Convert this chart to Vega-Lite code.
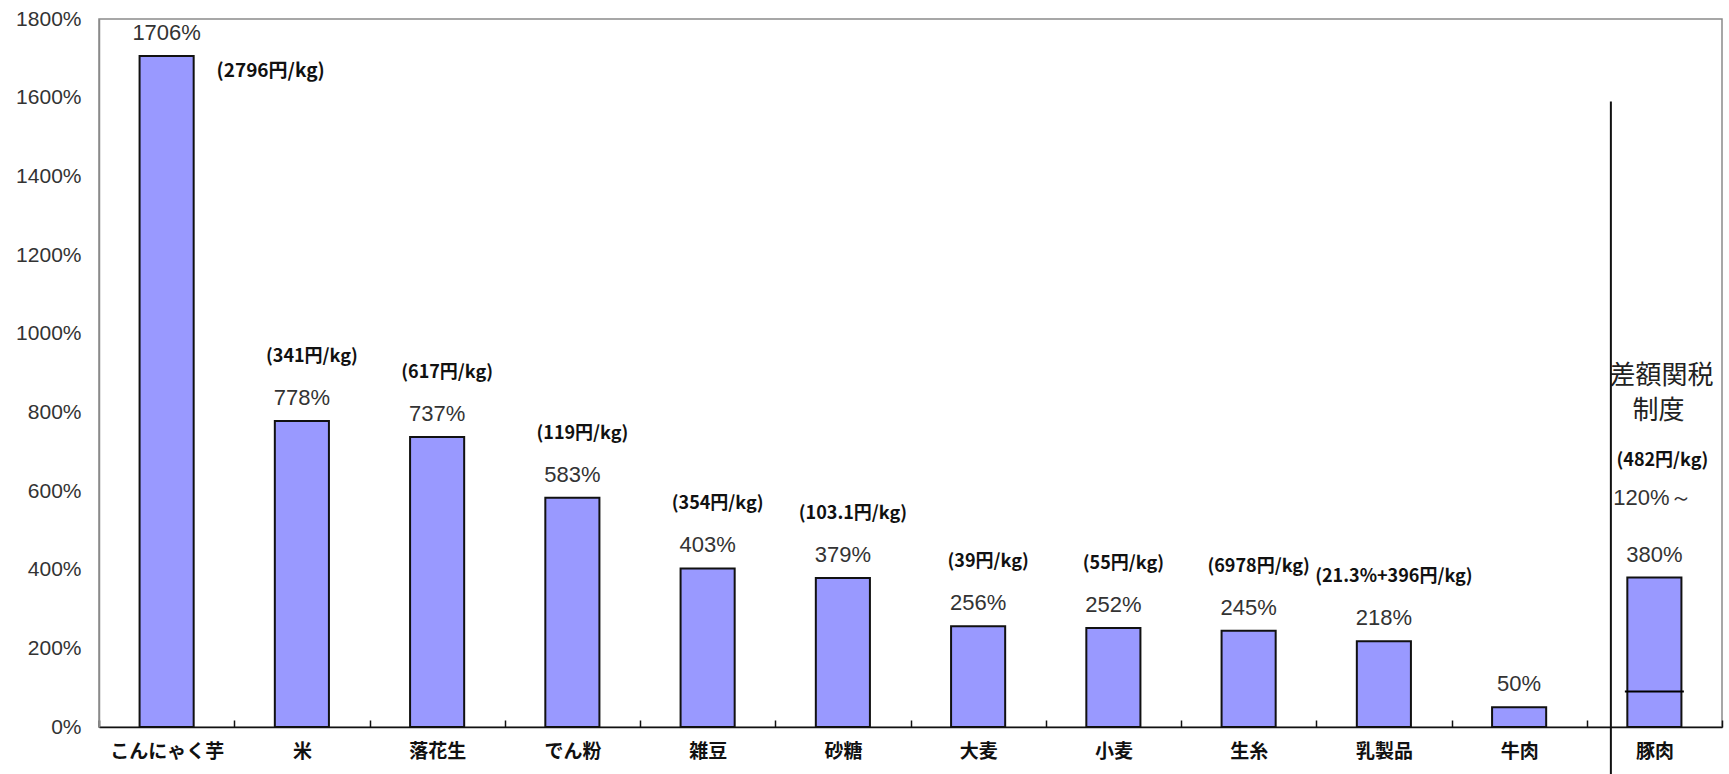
{
  "$schema": "https://vega.github.io/schema/vega-lite/v6.json",
  "width": 1623,
  "height": 708,
  "autosize": {"type": "none"},
  "padding": {"left": 99, "top": 19, "right": 7, "bottom": 47},
  "background": "white",
  "config": {
    "view": {"stroke": "#8a8a8a", "strokeWidth": 1.5},
    "text": {"font": "Liberation Sans"}
  },
  "data": {
    "values": [
      {"item": "こんにゃく芋", "rate": 1706, "label": "1706%", "price": "(2796円/kg)"},
      {"item": "米", "rate": 778, "label": "778%", "price": "(341円/kg)"},
      {"item": "落花生", "rate": 737, "label": "737%", "price": "(617円/kg)"},
      {"item": "でん粉", "rate": 583, "label": "583%", "price": "(119円/kg)"},
      {"item": "雑豆", "rate": 403, "label": "403%", "price": "(354円/kg)"},
      {"item": "砂糖", "rate": 379, "label": "379%", "price": "(103.1円/kg)"},
      {"item": "大麦", "rate": 256, "label": "256%", "price": "(39円/kg)"},
      {"item": "小麦", "rate": 252, "label": "252%", "price": "(55円/kg)"},
      {"item": "生糸", "rate": 245, "label": "245%", "price": "(6978円/kg)"},
      {"item": "乳製品", "rate": 218, "label": "218%", "price": "(21.3%+396円/kg)"},
      {"item": "牛肉", "rate": 50, "label": "50%", "price": ""},
      {"item": "豚肉", "rate": 380, "label": "380%", "price": "(482円/kg)", "low": "120%～", "note1": "差額関税", "note2": "制度", "base": 90, "divider_top": 1590, "divider_bottom": 0}
    ]
  },
  "encoding": {
    "x": {
      "field": "item",
      "type": "nominal",
      "sort": null,
      "scale": {
        "domain": ["こんにゃく芋", "米", "落花生", "でん粉", "雑豆", "砂糖", "大麦", "小麦", "生糸", "乳製品", "牛肉", "豚肉"],
        "paddingInner": 0,
        "paddingOuter": 0
      },
      "axis": {
        "title": null,
        "labelAngle": 0,
        "tickBand": "extent",
        "tickSize": -7,
        "tickColor": "#111",
        "tickWidth": 1.5,
        "domainColor": "#111",
        "domainWidth": 1.5,
        "labelFont": "Noto Sans CJK JP",
        "labelFontWeight": "bold",
        "labelFontSize": 19,
        "labelColor": "#111",
        "labelPadding": 22
      }
    },
    "y": {
      "field": "rate",
      "type": "quantitative",
      "scale": {"domain": [0, 1800], "nice": false},
      "axis": {
        "title": null,
        "values": [0, 200, 400, 600, 800, 1000, 1200, 1400, 1600, 1800],
        "labelExpr": "datum.value + '%'",
        "grid": false,
        "ticks": false,
        "domainColor": "#8a8a8a",
        "domainWidth": 1.5,
        "labelFont": "Liberation Sans",
        "labelFontSize": 21,
        "labelColor": "#333",
        "labelPadding": 18
      }
    }
  },
  "layer": [
    {
      "mark": {"type": "bar", "width": {"band": 0.4}, "fill": "#9999ff", "stroke": "#111", "strokeWidth": 2}
    },
    {
      "transform": [{"filter": "isValid(datum.base)"}],
      "mark": {"type": "tick", "orient": "horizontal", "size": 59, "thickness": 2, "color": "#000", "opacity": 1},
      "encoding": {"y": {"field": "base", "type": "quantitative"}}
    },
    {
      "mark": {"type": "text", "dy": -23, "baseline": "middle", "fontSize": 22, "color": "#333"},
      "encoding": {"text": {"field": "label"}}
    },
    {
      "transform": [{"filter": "datum.item !== 'こんにゃく芋' && datum.item !== '豚肉' && datum.price !== ''"}],
      "mark": {"type": "text", "dx": 10, "dy": -64, "baseline": "middle", "font": "Noto Sans CJK JP", "fontWeight": "bold", "fontSize": 18, "color": "#111"},
      "encoding": {"text": {"field": "price"}}
    },
    {
      "transform": [{"filter": "datum.item === 'こんにゃく芋'"}],
      "mark": {"type": "text", "dx": 104, "dy": 15, "baseline": "middle", "font": "Noto Sans CJK JP", "fontWeight": "bold", "fontSize": 19, "color": "#111"},
      "encoding": {"text": {"field": "price"}}
    },
    {
      "transform": [{"filter": "datum.item === '豚肉'"}],
      "mark": {"type": "text", "dx": 8, "dy": -117, "baseline": "middle", "font": "Noto Sans CJK JP", "fontWeight": "bold", "fontSize": 18, "color": "#111"},
      "encoding": {"text": {"field": "price"}}
    },
    {
      "transform": [{"filter": "datum.item === '豚肉'"}],
      "mark": {"type": "text", "dx": -2, "dy": -80, "baseline": "middle", "fontSize": 22, "color": "#333"},
      "encoding": {"text": {"field": "low"}}
    },
    {
      "transform": [{"filter": "datum.item === '豚肉'"}],
      "mark": {"type": "text", "dx": 7, "dy": -202, "baseline": "middle", "font": "Noto Sans CJK JP", "fontSize": 26, "color": "#222"},
      "encoding": {"text": {"field": "note1"}}
    },
    {
      "transform": [{"filter": "datum.item === '豚肉'"}],
      "mark": {"type": "text", "dx": 4, "dy": -167, "baseline": "middle", "font": "Noto Sans CJK JP", "fontSize": 26, "color": "#222"},
      "encoding": {"text": {"field": "note2"}}
    },
    {
      "transform": [{"filter": "isValid(datum.divider_top)"}],
      "mark": {"type": "rule", "color": "#111", "strokeWidth": 2, "xOffset": -43.5, "y2Offset": 47},
      "encoding": {
        "y": {"field": "divider_top", "type": "quantitative"},
        "y2": {"field": "divider_bottom"}
      }
    }
  ]
}
